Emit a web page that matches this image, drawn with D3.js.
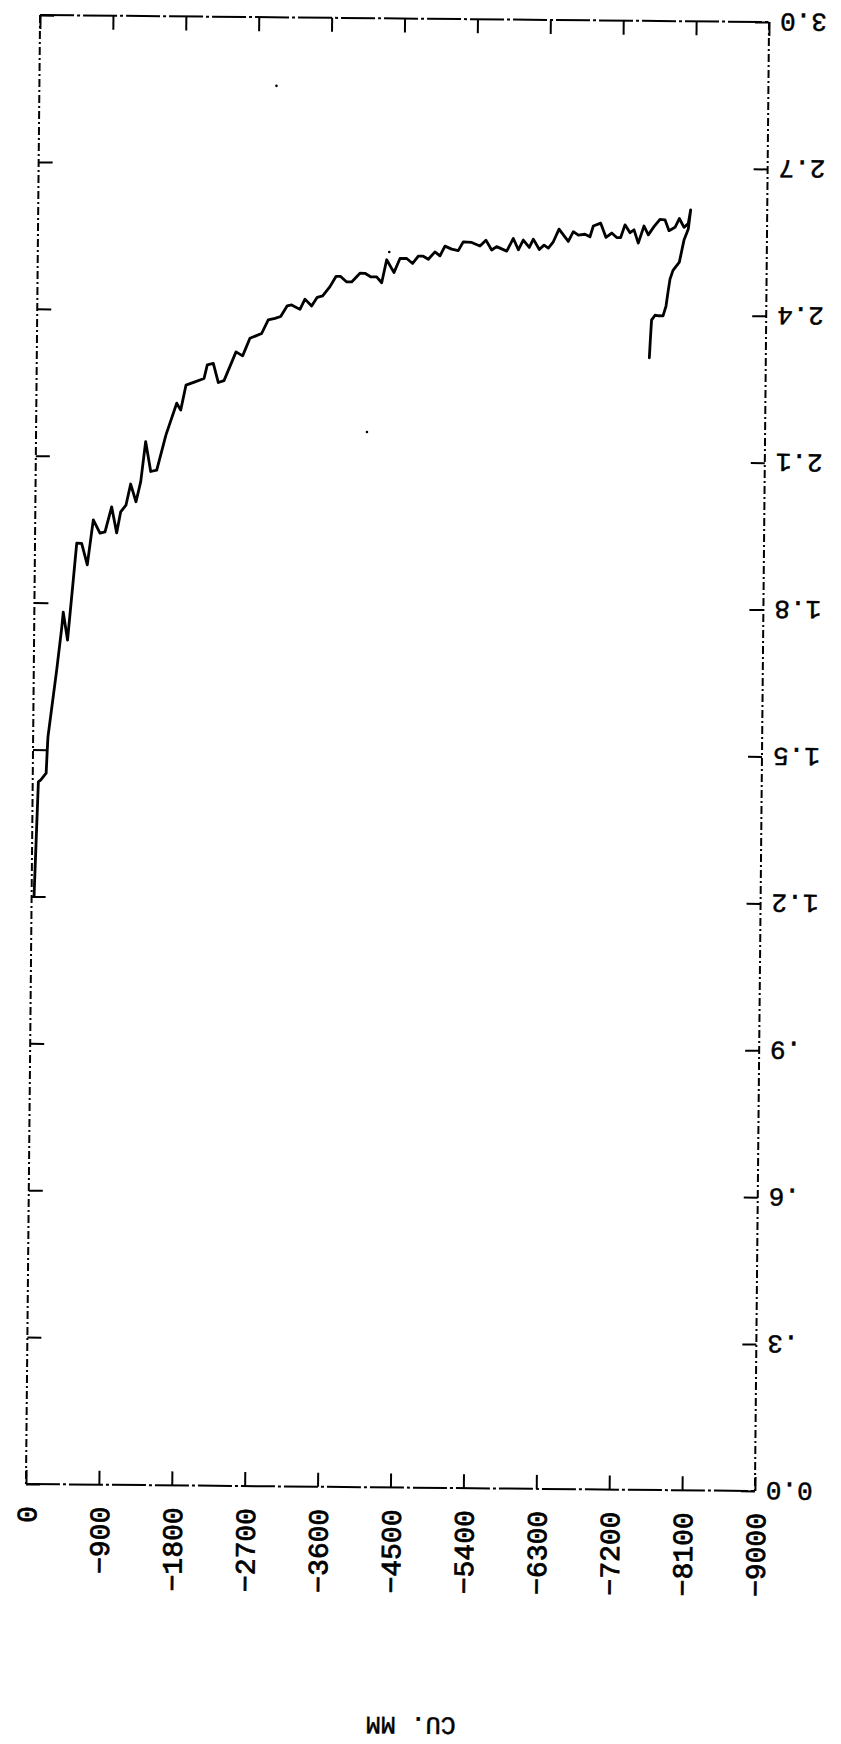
<!DOCTYPE html>
<html>
<head>
<meta charset="utf-8">
<script src="https://cdn.jsdelivr.net/npm/d3@7/dist/d3.min.js"></script>
<style>
  html, body { margin: 0; padding: 0; background: #fff; }
  svg { display: block; }
  text { font-family: "Liberation Mono", "DejaVu Sans Mono", monospace; fill: #000; }
</style>
</head>
<body>
<svg id="chart" width="841" height="1744"></svg>
<script>
// ---- data ----
const cuMM = [
  -30, -70, -100, -165, -176, -183, -283, -340, -357, -413,
  -477, -515, -576, -648, -717, -801, -863, -942, -1007, -1054,
  -1119, -1174, -1242, -1298, -1354, -1420, -1494, -1604, -1733, -1783,
  -1845, -1956, -2067, -2106, -2180, -2244, -2314, -2459, -2541, -2629,
  -2773, -2853, -2936, -3006, -3086, -3140, -3243, -3304, -3387, -3455,
  -3522, -3611, -3684, -3742, -3817, -3878, -3980, -4041, -4112, -4186,
  -4249, -4308, -4400, -4472, -4555, -4629, -4698, -4759, -4822, -4903,
  -4965, -5026, -5109, -5191, -5251, -5355, -5458, -5531, -5603, -5664,
  -5789, -5869, -5932, -5992, -6067, -6116, -6191, -6249, -6302, -6363,
  -6432, -6548, -6609, -6671, -6753, -6815, -6855, -6946, -7013, -7083,
  -7145, -7194, -7246, -7309, -7358, -7412, -7481, -7535, -7604, -7677,
  -7739, -7790, -7864, -7916, -7975, -8027, -8055,
  -8028, -7976, -7921, -7844, -7808, -7785, -7762, -7726, -7676, -7627,
  -7585, -7574, -7562
];
const yValues = [
  1.200, 1.434, 1.438, 1.452, 1.500, 1.526, 1.663, 1.749, 1.781, 1.724,
  1.847, 1.922, 1.922, 1.878, 1.970, 1.943, 1.946, 1.997, 1.944, 1.987,
  2.001, 2.044, 2.008, 2.049, 2.131, 2.070, 2.073, 2.145, 2.210, 2.196,
  2.247, 2.254, 2.261, 2.289, 2.292, 2.253, 2.257, 2.316, 2.308, 2.344,
  2.354, 2.382, 2.385, 2.389, 2.411, 2.413, 2.404, 2.425, 2.411, 2.429,
  2.432, 2.451, 2.472, 2.472, 2.461, 2.461, 2.479, 2.479, 2.472, 2.472,
  2.460, 2.507, 2.481, 2.510, 2.510, 2.500, 2.515, 2.515, 2.509, 2.524,
  2.516, 2.536, 2.530, 2.527, 2.545, 2.544, 2.537, 2.549, 2.529, 2.536,
  2.527, 2.553, 2.530, 2.550, 2.535, 2.552, 2.531, 2.540, 2.534, 2.547,
  2.573, 2.548, 2.568, 2.561, 2.563, 2.558, 2.580, 2.586, 2.557, 2.566,
  2.557, 2.557, 2.583, 2.567, 2.573, 2.546, 2.581, 2.563, 2.580, 2.595,
  2.594, 2.572, 2.579, 2.597, 2.579, 2.587, 2.615,
  2.576, 2.553, 2.508, 2.491, 2.473, 2.447, 2.418, 2.398, 2.398, 2.399,
  2.389, 2.354, 2.312
];
// stray specks on the scan
const speckX = [-2927, -4085, -4339];
const speckY = [2.860, 2.155, 2.523];

const xTicks = [0, -900, -1800, -2700, -3600, -4500, -5400, -6300, -7200, -8100, -9000];
const xTickLabels = ["0", "\u2212900", "\u22121800", "\u22122700", "\u22123600", "\u22124500",
                     "\u22125400", "\u22126300", "\u22127200", "\u22128100", "\u22129000"];
const yTicks = [0, 0.3, 0.6, 0.9, 1.2, 1.5, 1.8, 2.1, 2.4, 2.7, 3.0];
const yTickLabels = ["0.0", ".3", ".6", ".9", "1.2", "1.5", "1.8", "2.1", "2.4", "2.7", "3.0"];
const axisTitle = "CU. MM";

// ---- layout ----
const plotLeft = 33, plotRight = 762, plotTop = 18.5, plotBottom = 1487.5;
const svg = d3.select("#chart");
svg.append("rect").attr("width", 841).attr("height", 1744).attr("fill", "#fff");

const g = svg.append("g").attr("transform", "rotate(0.55,397.75,753)");

const x = d3.scaleLinear().domain([0, -9000]).range([plotLeft, plotRight]);
const y = d3.scaleLinear().domain([0, 3]).range([plotBottom, plotTop]);

// frame (plotter dash-dot borders)
const frame = g.append("g").attr("stroke", "#000").attr("stroke-width", 2).attr("fill", "none");
frame.append("line").attr("x1", x(0)).attr("x2", x(-9000)).attr("y1", y(3)).attr("y2", y(3))
  .attr("stroke-dasharray", "34,3,3,3");
frame.append("line").attr("x1", x(0)).attr("x2", x(-9000)).attr("y1", y(0)).attr("y2", y(0))
  .attr("stroke-dasharray", "34,3,3,3");
frame.append("line").attr("x1", x(0)).attr("x2", x(0)).attr("y1", y(3)).attr("y2", y(0))
  .attr("stroke-dasharray", "8,3,2,3");
frame.append("line").attr("x1", x(-9000)).attr("x2", x(-9000)).attr("y1", y(3)).attr("y2", y(0))
  .attr("stroke-dasharray", "8,3,2,3");

const tickLen = 14;
function styleAxis(sel) {
  sel.select(".domain").remove();
  sel.selectAll(".tick line").attr("stroke", "#000").attr("stroke-width", 2);
  sel.attr("font-size", null).attr("font-family", null);
}

// bottom axis with labels
const xb = g.append("g").attr("transform", `translate(0,${plotBottom})`)
  .call(d3.axisBottom(x).tickValues(xTicks).tickSize(-tickLen)
        .tickFormat((d, i) => xTickLabels[i]));
styleAxis(xb);
xb.selectAll(".tick text")
  .attr("x", -22).attr("y", 0).attr("dy", "0.36em")
  .attr("transform", "rotate(-90)")
  .attr("text-anchor", "end")
  .attr("font-size", 28)
  .attr("stroke", "#000").attr("stroke-width", 0.8);

// top axis (ticks only)
const xt = g.append("g").attr("transform", `translate(0,${plotTop})`)
  .call(d3.axisTop(x).tickValues(xTicks).tickSize(-tickLen).tickFormat(""));
styleAxis(xt);

// right axis with upside-down labels
const yr = g.append("g").attr("transform", `translate(${plotRight},0)`)
  .call(d3.axisRight(y).tickValues(yTicks).tickSize(-tickLen)
        .tickFormat((d, i) => yTickLabels[i]));
styleAxis(yr);
yr.selectAll(".tick text")
  .attr("x", 11).attr("y", 0).attr("dy", "0.36em")
  .attr("text-anchor", "end")
  .attr("transform", "rotate(180,11,0)")
  .attr("font-size", 26)
  .attr("stroke", "#000").attr("stroke-width", 0.5);

// left axis (ticks only)
const yl = g.append("g").attr("transform", `translate(${plotLeft},0)`)
  .call(d3.axisLeft(y).tickValues(yTicks).tickSize(-tickLen).tickFormat(""));
styleAxis(yl);

// data curve
const line = d3.line()
  .x(i => x(cuMM[i]))
  .y(i => y(yValues[i]));
g.append("path")
  .attr("d", line(d3.range(cuMM.length)))
  .attr("fill", "none")
  .attr("stroke", "#000")
  .attr("stroke-width", 2.8)
  .attr("stroke-linejoin", "round")
  .attr("stroke-linecap", "round");

// specks
g.selectAll("circle.speck").data(d3.range(speckX.length)).join("circle")
  .attr("class", "speck")
  .attr("cx", i => x(speckX[i])).attr("cy", i => y(speckY[i]))
  .attr("r", 1.3).attr("fill", "#000");

// axis title, upside down
g.append("text")
  .attr("x", 420).attr("y", 1726).attr("dy", "0.36em")
  .attr("text-anchor", "middle")
  .attr("transform", "rotate(180,420,1726)")
  .attr("font-size", 25)
  .attr("stroke", "#000").attr("stroke-width", 0.5)
  .text(axisTitle);
</script>
</body>
</html>
